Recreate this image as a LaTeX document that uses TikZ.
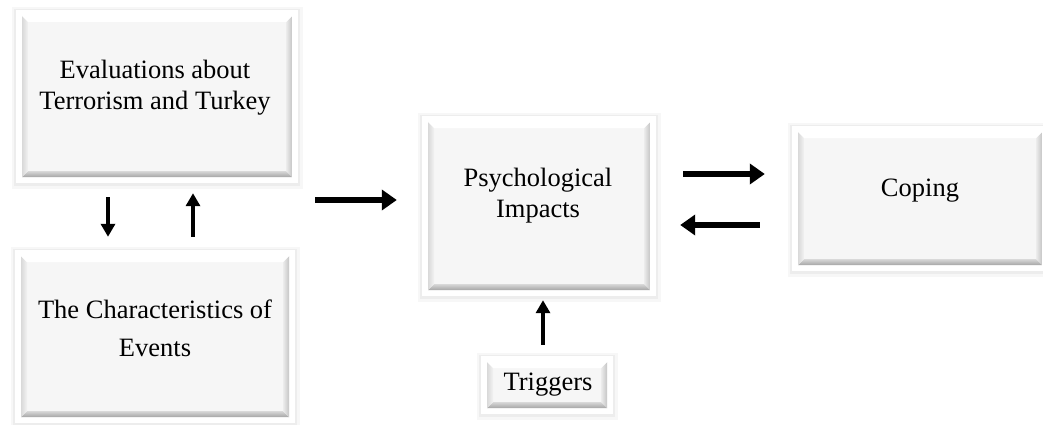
\documentclass[tikz,border=0pt]{standalone}
\usepackage{fontspec}
\setmainfont{Liberation Serif}
\usetikzlibrary{arrows.meta,calc}
\begin{document}
\begin{tikzpicture}[x=1pt,y=-1pt,
  bevel/.style={rectangle, inner sep=0pt, fill=gray!7,
    preaction={draw=black!3, line width=21pt, transform canvas={yshift=-1.5pt}},
    preaction={draw=black!7, line width=16pt, transform canvas={yshift=-1pt}},
    preaction={draw=white, line width=12pt},
    path picture={
      \coordinate (pa) at (path picture bounding box.south west);
      \coordinate (pb) at (path picture bounding box.north east);
      \shade[top color=gray!30, bottom color=gray!70] (pa) -- (pa-|pb) -- ($(pa-|pb)+(-6pt,6pt)$) -- ($(pa)+(6pt,6pt)$) -- cycle;
      \shade[left color=gray!15, right color=gray!45] (pa-|pb) -- (pb) -- ($(pb)+(-6pt,-6pt)$) -- ($(pa-|pb)+(-6pt,6pt)$) -- cycle;
      \shade[left color=gray!30, right color=gray!10] (pa) -- (pa|-pb) -- ($(pa|-pb)+(6pt,-6pt)$) -- ($(pa)+(6pt,6pt)$) -- cycle;
      \fill[white] (pa|-pb) -- (pb) -- ($(pb)+(-6pt,-6pt)$) -- ($(pa|-pb)+(6pt,-6pt)$) -- cycle;
    }},
  txt/.style={align=center, inner sep=0pt, font=\fontsize{26.5}{31}\selectfont},
  fat/.style={line width=5.5pt, -{Triangle[length=15pt,width=20pt]}},
  thin/.style={line width=3.4pt, -{Triangle[length=13pt,width=14pt]}}]
\useasboundingbox (0,0) rectangle (1043,425);
\fill[white] (0,0) rectangle (1043,425);

\node[bevel, minimum width=270pt, minimum height=161pt] (eval) at (157,96.5) {};
\node[txt] (evalt) at (155,88) {Evaluations about\\Terrorism and Turkey};

\node[bevel, minimum width=268pt, minimum height=161pt] (chr) at (155,336.5) {};
\node[txt, font=\fontsize{26.5}{38}\selectfont] (chrt) at (155,328) {The Characteristics of\\Events};

\node[bevel, minimum width=222pt, minimum height=168pt] (psy) at (539,206) {};
\node[txt] (psyt) at (538,196) {Psychological\\Impacts};

\node[bevel, minimum width=120pt, minimum height=46pt] (trg) at (547,385) {};
\node[txt] (trgt) at (548,385) {Triggers};

\node[bevel, minimum width=244pt, minimum height=133pt] (cop) at (920,198.5) {};
\node[txt] (copt) at (920,191) {Coping};

% arrows between left boxes
\draw[thin, shorten <=20pt, shorten >=19pt] ($(eval.south)+(-49,0)$) -- ($(chr.north)+(-47,0)$);
\draw[thin, shorten <=19pt, shorten >=16pt] ($(chr.north)+(38,0)$) -- ($(eval.south)+(36,0)$);

% to psychological
\coordinate (src) at (292,200);
\draw[fat, shorten <=23pt, shorten >=31pt] (src) -- (src -| psy.west);

% psychological <-> coping
\draw[fat, shorten <=33pt, shorten >=33pt] (psy.east |- 0,174) -- (cop.west |- 0,174);
\draw[fat, shorten <=38pt, shorten >=30pt] (cop.west |- 0,225) -- (psy.east |- 0,225);

% triggers
\draw[thin, line width=3.6pt, shorten <=17pt, shorten >=10pt] ($(trg.north)+(-4,0)$) -- ($(psy.south)+(4,0)$);
\end{tikzpicture}
\end{document}
